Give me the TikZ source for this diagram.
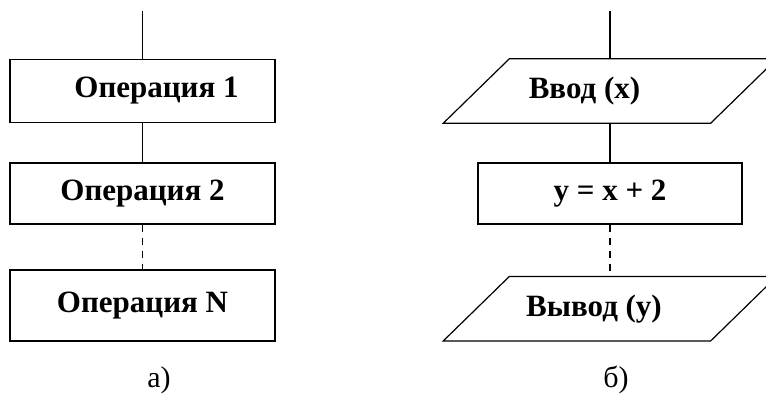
\documentclass[tikz,border=0pt]{standalone}
\usepackage{fontspec}
\setmainfont{Liberation Serif}
\usetikzlibrary{positioning}

\tikzset{
    opbox/.style={draw,line width=1.2pt,inner sep=0pt,minimum width=265pt,
        font=\fontsize{31}{31}\selectfont\bfseries},
    iobox/.style={inner sep=0pt,minimum width=267pt,minimum height=64pt,
        font=\fontsize{31}{31}\selectfont\bfseries},
    link/.style={line width=1.2pt},
    caption/.style={anchor=base,font=\fontsize{30}{30}\selectfont}
}

\begin{document}
\begin{tikzpicture}[x=1pt,y=-1pt]
            \useasboundingbox (0,0) rectangle (766,394);
            \clip (0,0) rectangle (766,394);
            % a)
            \coordinate (topA) at (142.5,11);
            \node[opbox,minimum height=63pt] (op1) at (142.5,91) {\hspace*{28pt}Операция 1};
            \node[opbox,minimum height=61pt] (op2) at (142.5,193.5) {Операция 2};
            \node[opbox,minimum height=71pt] (opN) at (142.5,305.5) {Операция N};
            \draw[link] (topA) -- (op1);
            \draw[link] (op1) -- (op2);
            \draw[link,dash pattern=on 7pt off 6pt] (op2) -- (opN);
            \node[caption] (capA) at (159,387) {а)};
            % b)
            \coordinate (topB) at (610,11);
            \node[iobox] (inp) at (610,91) {Ввод (x)\hspace*{51pt}};
            \node[opbox,minimum width=264pt,minimum height=61pt] (calc) at (610,193.5) {y = x + 2};
            \node[iobox] (outp) at (610,308.7) {Вывод (y)\hspace*{32pt}};
            \foreach \p in {inp,outp}
                \draw[link,line join=miter] ([xshift=-33pt]\p.south west) -- ([xshift=33pt]\p.north west)
                    -- ([xshift=33pt]\p.north east) -- ([xshift=-33pt]\p.south east) -- cycle;
            \draw[link] (topB) -- (inp);
            \draw[link] (inp) -- (calc);
            \draw[link,dash pattern=on 7pt off 6pt] (calc) -- (outp);
            \node[caption] (capB) at (616,387) {б)};
        \end{tikzpicture}
\end{document}
